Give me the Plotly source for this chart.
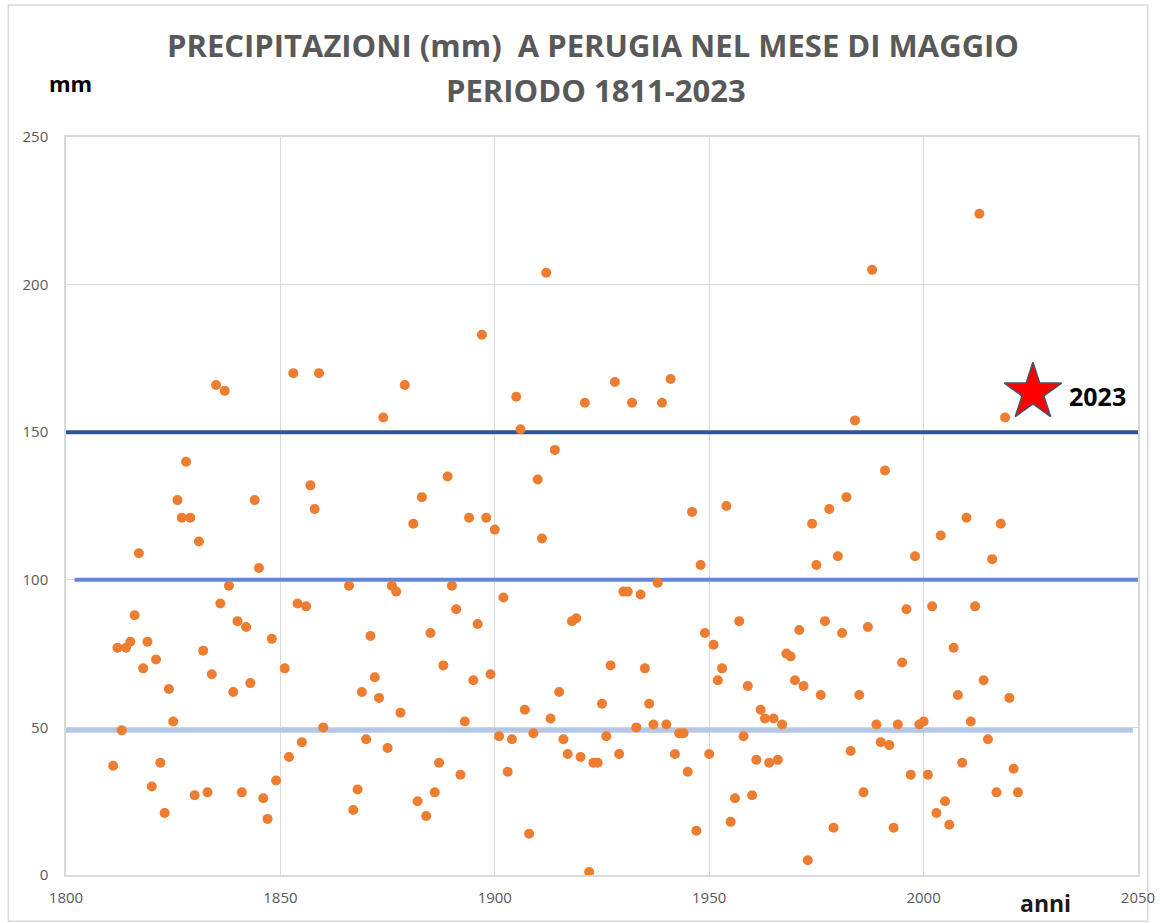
import plotly.graph_objects as go

# ---- data ----
years = [1811, 1812, 1813, 1814, 1815, 1816, 1817, 1818, 1819, 1820,
         1821, 1822, 1823, 1824, 1825, 1826, 1827, 1828, 1829, 1830,
         1831, 1832, 1833, 1834, 1835, 1836, 1837, 1838, 1839, 1840,
         1841, 1842, 1843, 1844, 1845, 1846, 1847, 1848, 1849,
         1851, 1852, 1853, 1854, 1855, 1856, 1857, 1858, 1859, 1860,
         1866, 1867, 1868, 1869, 1870,
         1871, 1872, 1873, 1874, 1875, 1876, 1877, 1878, 1879,
         1881, 1882, 1883, 1884, 1885, 1886, 1887, 1888, 1889, 1890,
         1891, 1892, 1893, 1894, 1895, 1896, 1897, 1898, 1899, 1900,
         1901, 1902, 1903, 1904, 1905, 1906, 1907, 1908, 1909, 1910,
         1911, 1912, 1913, 1914, 1915, 1916, 1917, 1918, 1919, 1920,
         1921, 1922, 1923, 1924, 1925, 1926, 1927, 1928, 1929, 1930,
         1931, 1932, 1933, 1934, 1935, 1936, 1937, 1938, 1939, 1940,
         1941, 1942, 1943, 1944, 1945, 1946, 1947, 1948, 1949, 1950,
         1951, 1952, 1953, 1954, 1955, 1956, 1957, 1958, 1959, 1960,
         1961, 1962, 1963, 1964, 1965, 1966, 1967, 1968, 1969, 1970,
         1971, 1972, 1973, 1974, 1975, 1976, 1977, 1978, 1979, 1980,
         1981, 1982, 1983, 1984, 1985, 1986, 1987, 1988, 1989, 1990,
         1991, 1992, 1993, 1994, 1995, 1996, 1997, 1998, 1999, 2000,
         2001, 2002, 2003, 2004, 2005, 2006, 2007, 2008, 2009, 2010,
         2011, 2012, 2013, 2014, 2015, 2016, 2017, 2018, 2019, 2020,
         2021, 2022]

rain_mm = [37, 77, 49, 77, 79, 88, 109, 70, 79, 30,
           73, 38, 21, 63, 52, 127, 121, 140, 121, 27,
           113, 76, 28, 68, 166, 92, 164, 98, 62, 86,
           28, 84, 65, 127, 104, 26, 19, 80, 32,
           70, 40, 170, 92, 45, 91, 132, 124, 170, 50,
           98, 22, 29, 62, 46,
           81, 67, 60, 155, 43, 98, 96, 55, 166,
           119, 25, 128, 20, 82, 28, 38, 71, 135, 98,
           90, 34, 52, 121, 66, 85, 183, 121, 68, 117,
           47, 94, 35, 46, 162, 151, 56, 14, 48, 134,
           114, 204, 53, 144, 62, 46, 41, 86, 87, 40,
           160, 1, 38, 38, 58, 47, 71, 167, 41, 96,
           96, 160, 50, 95, 70, 58, 51, 99, 160, 51,
           168, 41, 48, 48, 35, 123, 15, 105, 82, 41,
           78, 66, 70, 125, 18, 26, 86, 47, 64, 27,
           39, 56, 53, 38, 53, 39, 51, 75, 74, 66,
           83, 64, 5, 119, 105, 61, 86, 124, 16, 108,
           82, 128, 42, 154, 61, 28, 84, 205, 51, 45,
           137, 44, 16, 51, 72, 90, 34, 108, 51, 52,
           34, 91, 21, 115, 25, 17, 77, 61, 38, 121,
           52, 91, 224, 66, 46, 107, 28, 119, 155, 60,
           36, 28]

# 2023 highlight (drawn as a star, placed as in the reference)
star_x = [2025.5]
star_y = [163.5]
star_label = "2023"

# reference levels (x extents and level values)
level_150_x = [1800, 2050]
level_150_y = [150, 150]
level_100_x = [1802, 2050]
level_100_y = [100, 100]
level_50_x = [1800, 2048.8]
level_50_y = [49, 49]

x_ticks = [1800, 1850, 1900, 1950, 2000, 2050]
y_ticks = [0, 50, 100, 150, 200, 250]

title_line1 = "PRECIPITAZIONI (mm)  A PERUGIA NEL MESE DI MAGGIO"
title_line2 = "PERIODO 1811-2023"

FONT = "Open Sans"
GRID = "#D9D9D9"
TICK = "#595959"

fig = go.Figure()

fig.add_trace(go.Scatter(x=level_50_x, y=level_50_y, mode="lines",
                         line=dict(color="#B4C7E7", width=5),
                         hoverinfo="skip", showlegend=False))
fig.add_trace(go.Scatter(x=level_100_x, y=level_100_y, mode="lines",
                         line=dict(color="#6485D8", width=4),
                         hoverinfo="skip", showlegend=False))
fig.add_trace(go.Scatter(x=level_150_x, y=level_150_y, mode="lines",
                         line=dict(color="#2F5597", width=4),
                         hoverinfo="skip", showlegend=False))

fig.add_trace(go.Scatter(x=years, y=rain_mm, mode="markers",
                         marker=dict(color="#ED7D31", size=10, line=dict(width=0)),
                         showlegend=False))

fig.add_trace(go.Scatter(x=star_x, y=star_y, mode="markers",
                         marker=dict(symbol="star", size=43, color="#FF0000",
                                     line=dict(color="#44546A", width=1.5)),
                         cliponaxis=False, showlegend=False))

fig.update_layout(
    width=1160, height=923, autosize=False,
    margin=dict(l=66, r=22, t=137, b=48, autoexpand=False),
    paper_bgcolor="white", plot_bgcolor="white",
    font=dict(family=FONT, color=TICK),
    xaxis=dict(range=[1800, 2050], tickvals=x_ticks, showgrid=True, gridcolor=GRID,
               gridwidth=1, zeroline=False, showline=True, mirror=True,
               linecolor=GRID, linewidth=1.5, ticks="", automargin=False,
               tickfont=dict(size=15, color=TICK), ticklabelstandoff=8),
    yaxis=dict(range=[0, 250], tickvals=y_ticks, showgrid=True, gridcolor=GRID,
               gridwidth=1, zeroline=False, showline=True, mirror=True,
               linecolor=GRID, linewidth=1.5, ticks="", automargin=False,
               tickfont=dict(size=15, color=TICK), ticklabelstandoff=13),
    shapes=[dict(type="rect", xref="paper", yref="paper",
                 x0=-0.0538, x1=1.0091, y0=-0.0625, y1=1.179,
                 line=dict(color=GRID, width=1.5), fillcolor="rgba(0,0,0,0)",
                 layer="below")],
    annotations=[
        dict(text=title_line1, xref="paper", yref="paper", x=0.4915, y=1.124,
             xanchor="center", yanchor="middle", showarrow=False,
             font=dict(family=FONT, size=31, color="#595959", weight="bold")),
        dict(text=title_line2, xref="paper", yref="paper", x=0.4945, y=1.0633,
             xanchor="center", yanchor="middle", showarrow=False,
             font=dict(family=FONT, size=31, color="#595959", weight="bold")),
        dict(text="mm", xref="paper", yref="paper", x=0.004, y=1.0728,
             xanchor="center", yanchor="middle", showarrow=False,
             font=dict(family=FONT, size=22, color="#000000", weight="bold")),
        dict(text="anni", xref="paper", yref="paper", x=0.914, y=-0.0386,
             xanchor="center", yanchor="middle", showarrow=False,
             font=dict(family=FONT, size=23, color="#1a1a1a", weight="bold")),
        dict(text=star_label, xref="x", yref="y", x=star_x[0], y=star_y[0],
             xanchor="left", yanchor="middle", xshift=34, yshift=-4, showarrow=False,
             font=dict(family=FONT, size=25, color="#000000", weight="bold")),
    ],
)

fig.write_html("out.html", config={"displayModeBar": False},
               post_script="document.body.style.margin='0';")
